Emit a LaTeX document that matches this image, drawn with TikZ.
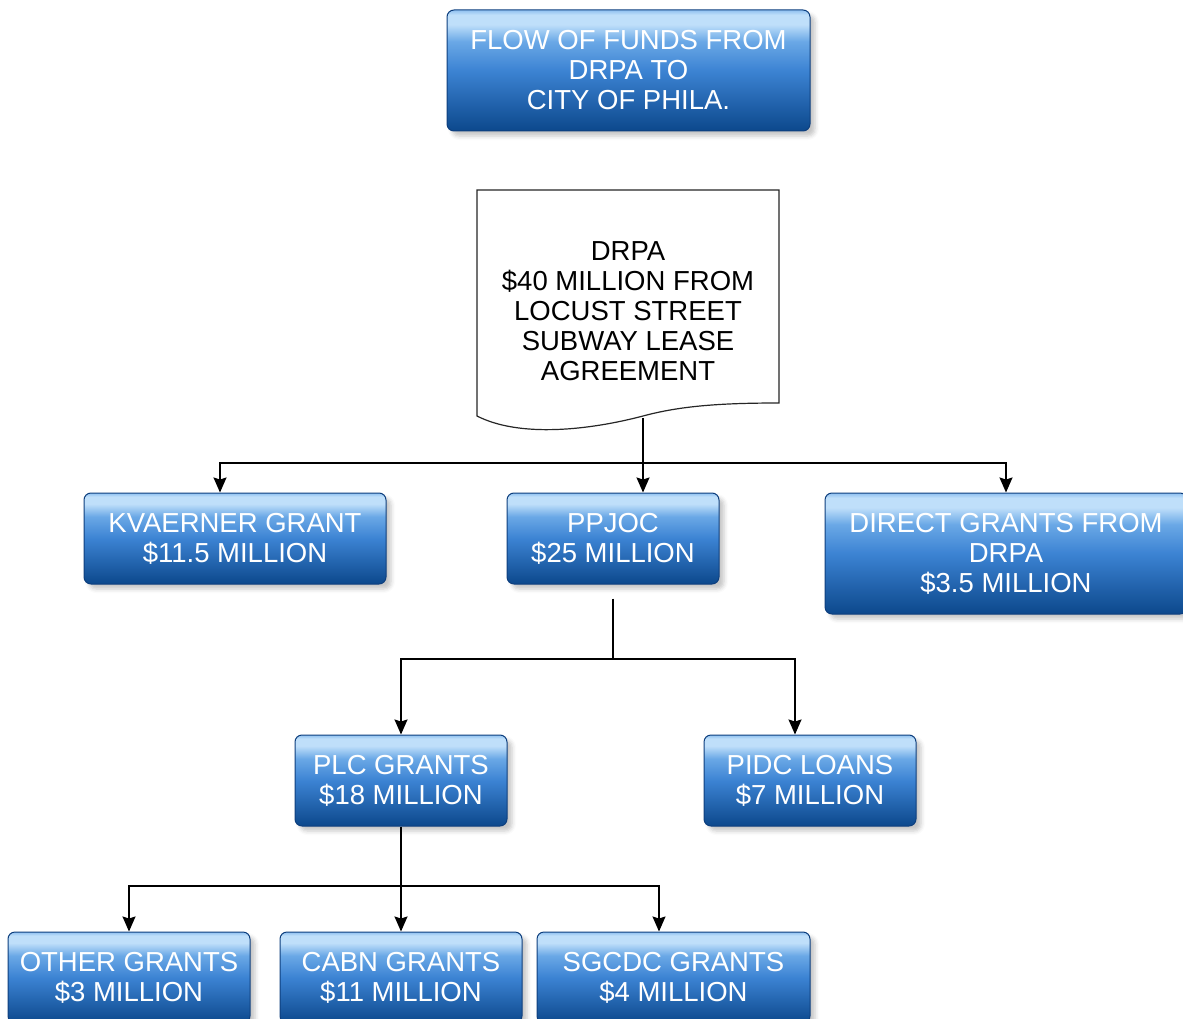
\documentclass[tikz,border=0pt]{standalone}
\usepackage{fontspec}
\setmainfont{Liberation Sans}
\usetikzlibrary{arrows.meta,shadows.blur}
\definecolor{gT}{HTML}{8FC0F0}
\definecolor{gH}{HTML}{BFDFFA}
\definecolor{gL}{HTML}{6AA8E6}
\definecolor{gM}{HTML}{3C83D3}
\definecolor{gB}{HTML}{0C488C}
\definecolor{bdr}{HTML}{0E3F7E}
\pgfdeclareverticalshading{glossy}{100bp}{color(0bp)=(gB); color(25bp)=(gB); color(50bp)=(gM); color(62bp)=(gL); color(69bp)=(gH); color(73bp)=(gH); color(75bp)=(gT); color(100bp)=(gT)}
\begin{document}
\begin{tikzpicture}[x=1pt,y=-1pt,
  box/.style={draw=bdr, line width=1pt, rounded corners=7pt, shading=glossy,
    text=white, font=\fontsize{27.5}{30}\selectfont, align=center, inner sep=0pt,
    blur shadow={shadow xshift=5pt, shadow yshift=-5pt, shadow opacity=22, shadow blur radius=4pt}},
  doctext/.style={text=black, font=\fontsize{27.5}{30}\selectfont, align=center, inner sep=0pt},
  docline/.style={draw=black!85, line width=1.2pt, fill=white},
  conn/.style={draw=black, line width=1.5pt},
  arr/.style={conn, -{Stealth[length=15pt, width=13pt, inset=2pt]}}]
\useasboundingbox (0,0) rectangle (1183,1019);

\node[box, minimum width=363pt, minimum height=121pt] (title) at (628.5,70.5) {FLOW OF FUNDS FROM\\DRPA TO\\CITY OF PHILA.};

\draw[docline] (477,190) -- (779,190) -- (779,403)
  .. controls (720,403) and (680,406) .. (643,416)
  .. controls (590,430) and (520,438) .. (477,416) -- cycle;
\node[doctext] (doc) at (628,311) {DRPA\\\$40 MILLION FROM\\LOCUST STREET\\SUBWAY LEASE\\AGREEMENT};
\coordinate (docb) at (643,418);

\node[box, minimum width=302pt, minimum height=91pt] (kv) at (235,538.5) {KVAERNER GRANT\\\$11.5 MILLION};
\node[box, minimum width=212pt, minimum height=91pt] (pp) at (613,538.5) {PPJOC\\\$25 MILLION};
\node[box, minimum width=362pt, minimum height=121pt] (dg) at (1006,553.5) {DIRECT GRANTS FROM\\DRPA\\\$3.5 MILLION};

\node[box, minimum width=212pt, minimum height=91pt] (plc) at (401,780.5) {PLC GRANTS\\\$18 MILLION};
\node[box, minimum width=212pt, minimum height=91pt] (pidc) at (810,780.5) {PIDC LOANS\\\$7 MILLION};

\node[box, minimum width=242pt, minimum height=91pt] (oth) at (129,977.5) {OTHER GRANTS\\\$3 MILLION};
\node[box, minimum width=242pt, minimum height=91pt] (cabn) at (401,977.5) {CABN GRANTS\\\$11 MILLION};
\node[box, minimum width=273pt, minimum height=91pt] (sg) at (673.5,977.5) {SGCDC GRANTS\\\$4 MILLION};

% connectors from DRPA
\coordinate (j1) at (643,463);
\draw[arr] (docb) -- (docb |- pp.north);
\draw[arr] (j1) -| ([xshift=-15pt]kv.north);
\draw[arr] (j1) -| (dg.north);

% connectors from PPJOC
\coordinate (ppo) at ([yshift=-14pt]pp.south);
\coordinate (j2) at (613,659);
\draw[conn] (ppo) -- (j2);
\draw[arr] (j2) -| (plc.north);
\draw[arr] (j2) -| ([xshift=-15pt]pidc.north);

% connectors from PLC
\coordinate (j3) at (401,886);
\draw[arr] (plc.south) -- (cabn.north);
\draw[arr] (j3) -| (oth.north);
\draw[arr] (j3) -| ([xshift=-14.5pt]sg.north);
\end{tikzpicture}
\end{document}
